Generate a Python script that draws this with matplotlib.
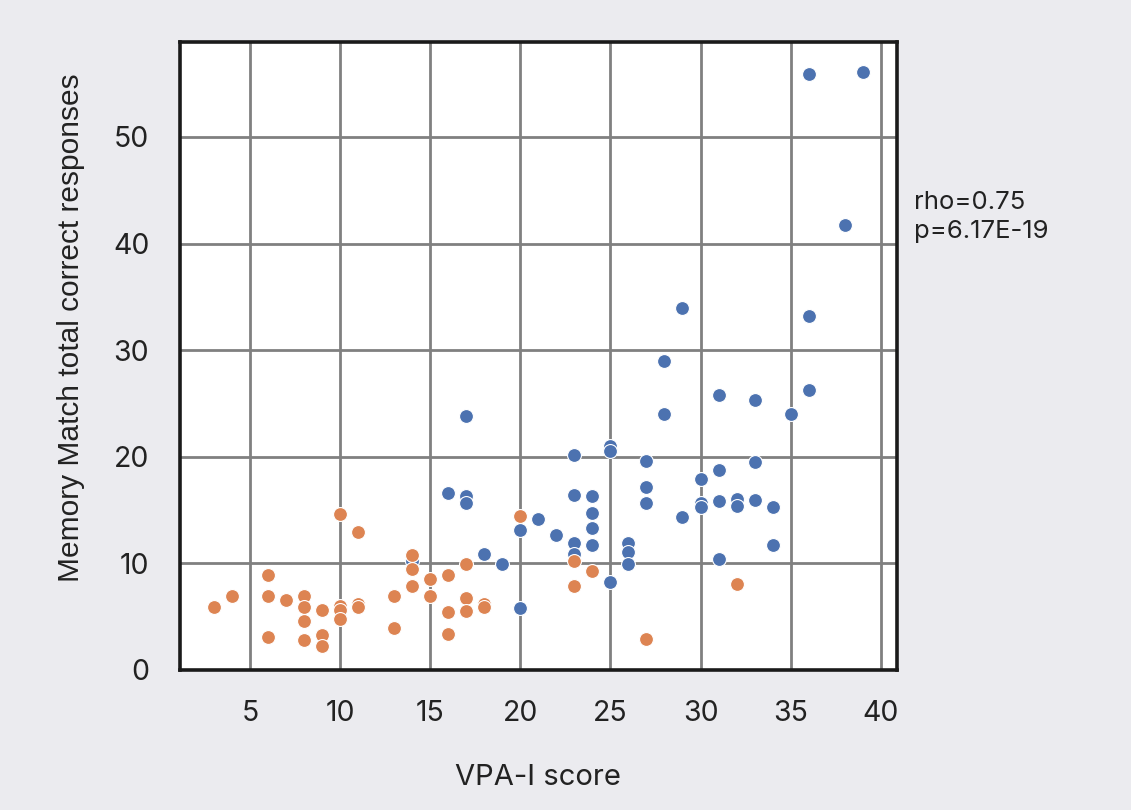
import matplotlib
matplotlib.use('Agg')
import matplotlib.pyplot as plt

# 两组散点：蓝色 / 橙色
blue_x = [14, 16, 17, 17, 17, 18, 19, 20, 20, 21, 22, 23, 23, 23, 23, 24, 24, 24, 24,
          25, 25, 25, 26, 26, 26, 27, 27, 27, 28, 28, 29, 29, 30, 30, 30, 31, 31, 31, 31,
          32, 32, 33, 33, 33, 34, 34, 35, 36, 36, 36, 38, 39]
blue_y = [10.2, 16.6, 23.8, 16.3, 15.7, 10.9, 9.9, 13.1, 5.8, 14.2, 12.7, 20.2, 16.4, 11.9, 10.9,
          16.3, 14.7, 13.3, 11.7, 21.0, 20.5, 8.2, 11.9, 11.1, 9.9, 19.6, 17.2, 15.7, 29.0, 24.0,
          34.0, 14.3, 17.9, 15.7, 15.3, 25.8, 18.8, 15.8, 10.4, 16.0, 15.4, 25.3, 19.5, 15.9,
          15.3, 11.7, 24.0, 55.9, 33.2, 26.3, 41.7, 56.1]

orange_x = [3, 4, 6, 6, 6, 7, 8, 8, 8, 8, 9, 9, 9, 10, 10, 10, 10, 11, 11, 11, 13, 13,
            14, 14, 14, 15, 15, 16, 16, 16, 17, 17, 17, 18, 18, 20, 23, 23, 24, 27, 32]
orange_y = [5.9, 6.9, 8.9, 6.9, 3.1, 6.6, 6.9, 5.9, 4.6, 2.8, 5.6, 3.3, 2.2, 14.6, 6.0, 5.6, 4.8,
            12.9, 6.2, 5.9, 6.9, 3.9, 10.8, 9.5, 7.9, 8.5, 6.9, 8.9, 5.4, 3.4, 9.9, 6.7, 5.5,
            6.2, 5.9, 14.4, 10.2, 7.9, 9.3, 2.9, 8.1]

xticks = [5, 10, 15, 20, 25, 30, 35, 40]
yticks = [0, 10, 20, 30, 40, 50]
stat_text = 'rho=0.75\np=6.17E-19'

bg = '#ebebef'
fig = plt.figure(figsize=(11.31, 8.10), dpi=100, facecolor=bg)
ax = fig.add_axes([0.159, 0.173, 0.634, 0.775])
ax.set_facecolor('white')

ax.scatter(blue_x, blue_y, s=100, color='#4c72b0', edgecolors='white', linewidths=0.8, zorder=3)
ax.scatter(orange_x, orange_y, s=100, color='#dd8452', edgecolors='white', linewidths=0.8, zorder=3)

ax.set_xlim(1.1, 40.9)
ax.set_ylim(0, 58.9)
ax.set_xticks(xticks)
ax.set_yticks(yticks)
ax.grid(True, color='#808080', lw=2, zorder=1)
ax.set_axisbelow(True)
for sp in ax.spines.values():
    sp.set_color('#1a1a1a')
    sp.set_linewidth(2.6)

tick_font = 'Inter'
ax.tick_params(axis='x', length=0, pad=22, labelsize=20.5, labelcolor='#222222')
ax.tick_params(axis='y', length=0, pad=22, labelsize=20.5, labelcolor='#222222')
for lab in ax.get_xticklabels() + ax.get_yticklabels():
    lab.set_fontfamily(tick_font)

ax.set_xlabel('VPA-I score', fontsize=21, family=tick_font, color='#222222', labelpad=26)
ax.set_ylabel('Memory Match total correct responses', fontsize=21.5,
              family='Liberation Sans', color='#222222', labelpad=20)
ax.yaxis.label.set_y(0.545)

fig.text(0.808, 0.732, stat_text, fontsize=18.5, family=tick_font, color='#222222',
         va='center', linespacing=1.35)

fig.savefig('out.png', dpi=100, facecolor=bg)
